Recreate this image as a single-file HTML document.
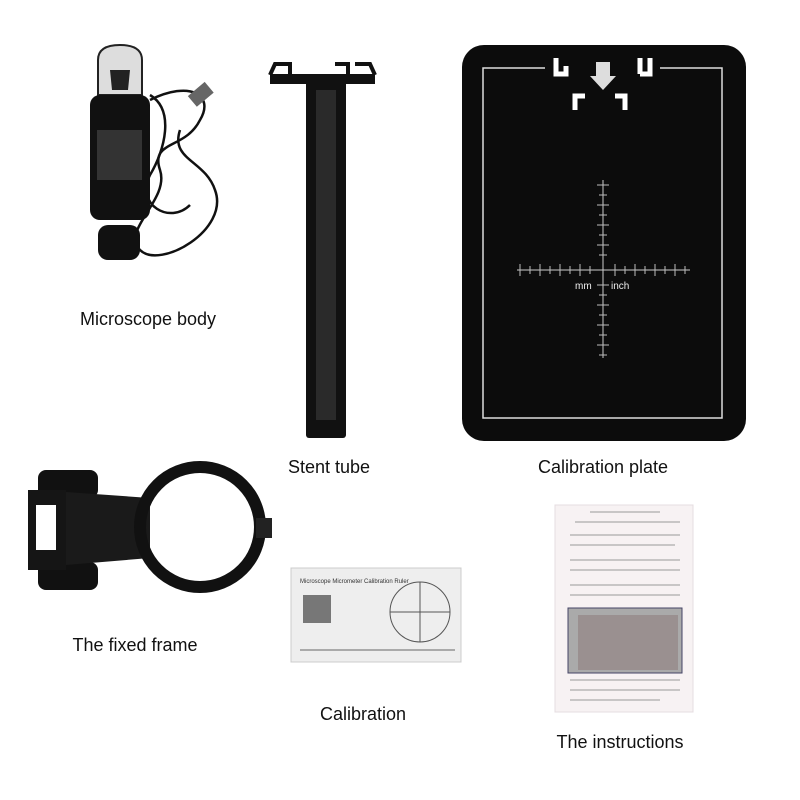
<!DOCTYPE html>
<html><head><meta charset="utf-8"><style>
html,body{margin:0;padding:0;background:#fff;}
body{width:800px;height:800px;position:relative;overflow:hidden;font-family:"Liberation Sans",sans-serif;}
.l{position:absolute;font-size:18px;color:#111;transform:translateX(-50%);white-space:nowrap;}
svg{position:absolute;left:0;top:0;}
</style></head><body>
<svg width="800" height="800" viewBox="0 0 800 800">
<!-- microscope body -->
<path d="M150 100 C190 80 215 95 200 120 C185 150 150 140 160 170 C170 200 120 230 140 250 C160 270 230 230 215 190 C205 160 170 160 180 130" fill="none" stroke="#111" stroke-width="2.5"/>
<path d="M150 95 C175 110 165 150 150 175 C135 205 170 225 190 205" fill="none" stroke="#111" stroke-width="2.5"/>
<rect x="190" y="88" width="22" height="14" fill="#666" transform="rotate(-40 200 95)"/>
<path d="M98 60 Q98 45 120 45 Q142 45 142 60 L142 95 L98 95 Z" fill="#ddd" stroke="#222" stroke-width="2"/>
<path d="M110 70 L130 70 L128 90 L112 90 Z" fill="#222"/>
<rect x="90" y="95" width="60" height="125" rx="10" fill="#111"/>
<rect x="97" y="130" width="45" height="50" fill="#333"/>
<rect x="98" y="225" width="42" height="35" rx="10" fill="#111"/>
<!-- stent tube -->
<path d="M270 75 L275 64 L290 64 L290 80 M335 64 L348 64 L348 75 M355 64 L370 64 L375 75" fill="none" stroke="#111" stroke-width="4"/>
<rect x="270" y="74" width="105" height="10" fill="#111"/>
<rect x="306" y="80" width="40" height="358" rx="3" fill="#111"/>
<rect x="316" y="90" width="20" height="330" fill="#2a2a2a"/>
<!-- calibration plate -->
<rect x="462" y="45" width="284" height="396" rx="22" fill="#0c0c0c"/>
<rect x="483" y="68" width="239" height="350" fill="none" stroke="#ddd" stroke-width="1.5"/>
<rect x="545" y="55" width="115" height="18" fill="#0c0c0c"/>
<path d="M556 58 L556 74 L566 74 L566 66 M640 58 L640 74 M650 58 L650 74 L640 74" fill="none" stroke="#fff" stroke-width="5"/>
<path d="M575 110 L575 96 L585 96 M625 110 L625 96 L615 96" fill="none" stroke="#fff" stroke-width="5"/>
<path d="M596 62 L610 62 L610 76 L616 76 L603 90 L590 76 L596 76 Z" fill="#ddd"/>
<line x1="517" y1="270" x2="690" y2="270" stroke="#ccc" stroke-width="1"/>
<line x1="603" y1="180" x2="603" y2="358" stroke="#ccc" stroke-width="1"/>
<g stroke="#bbb" stroke-width="1">
<path d="M520 264V276M530 266V274M540 264V276M550 266V274M560 264V276M570 266V274M580 264V276M590 266V274M615 264V276M625 266V274M635 264V276M645 266V274M655 264V276M665 266V274M675 264V276M685 266V274"/>
<path d="M597 185H609M599 195H607M597 205H609M599 215H607M597 225H609M599 235H607M597 245H609M599 255H607M597 285H609M599 295H607M597 305H609M599 315H607M597 325H609M599 335H607M597 345H609M599 355H607"/>
</g>
<text x="575" y="289" font-family="Liberation Sans" font-size="10" fill="#eee">mm</text>
<text x="611" y="289" font-family="Liberation Sans" font-size="10" fill="#eee">inch</text>
<!-- fixed frame -->
<rect x="38" y="470" width="60" height="28" rx="8" fill="#111"/>
<rect x="38" y="562" width="60" height="28" rx="8" fill="#111"/>
<rect x="28" y="490" width="38" height="80" fill="#151515"/>
<rect x="36" y="505" width="20" height="45" fill="#fff"/>
<path d="M66 492 L150 498 L150 558 L66 565 Z" fill="#1a1a1a"/>
<circle cx="200" cy="527" r="60" fill="none" stroke="#111" stroke-width="12"/>
<rect x="256" y="518" width="16" height="20" fill="#222"/>
<!-- calibration card -->
<rect x="291" y="568" width="170" height="94" fill="#eee" stroke="#ccc"/>
<text x="300" y="583" font-family="Liberation Sans" font-size="6" fill="#333">Microscope Micrometer Calibration Ruler</text>
<rect x="303" y="595" width="28" height="28" fill="#777"/>
<circle cx="420" cy="612" r="30" fill="none" stroke="#555"/>
<line x1="390" y1="612" x2="450" y2="612" stroke="#555"/>
<line x1="420" y1="582" x2="420" y2="642" stroke="#555"/>
<line x1="300" y1="650" x2="455" y2="650" stroke="#666"/>
<!-- instructions -->
<rect x="555" y="505" width="138" height="207" fill="#f7f2f3" stroke="#e5dde0"/>
<g stroke="#999" stroke-width="1">
<path d="M590 512H660M575 522H680M570 535H680M570 545H675M570 560H680M570 570H680M570 585H680M570 595H680"/>
<path d="M570 680H680M570 690H680M570 700H660"/>
</g>
<rect x="568" y="608" width="114" height="65" fill="#aaa" stroke="#446"/>
<rect x="578" y="615" width="100" height="55" fill="#9a9090"/>
</svg>
<div class="l" style="left:148px;top:309px">Microscope body</div>
<div class="l" style="left:329px;top:457px">Stent tube</div>
<div class="l" style="left:603px;top:457px">Calibration plate</div>
<div class="l" style="left:135px;top:635px">The fixed frame</div>
<div class="l" style="left:363px;top:704px">Calibration</div>
<div class="l" style="left:620px;top:732px">The instructions</div>
</body></html>
